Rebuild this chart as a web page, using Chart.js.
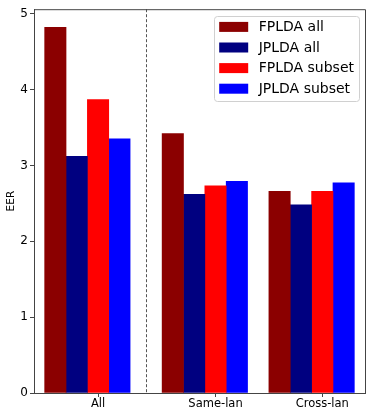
<!DOCTYPE html>
<html>
<head>
<meta charset="utf-8">
<script src="https://cdn.jsdelivr.net/npm/chart.js@4"></script>
<style>
  html, body { margin: 0; padding: 0; background: #fff; }
  #wrap { width: 374px; height: 415px; }
</style>
</head>
<body>
<div id="wrap"><canvas id="myChart" width="374" height="415"></canvas></div>
<script>
// data
const categories = ["All", "Same-lan", "Cross-lan"];
const seriesNames = ["FPLDA all", "JPLDA all", "FPLDA subset", "JPLDA subset"];
const fpldaAll = [4.82, 3.42, 2.66];
const jpldaAll = [3.12, 2.62, 2.48];
const fpldaSubset = [3.87, 2.73, 2.66];
const jpldaSubset = [3.35, 2.79, 2.77];
const yTicks = [0, 1, 2, 3, 4, 5];

// layout of the groups on the x axis (bar width 0.2, tick sits on the 3rd bar)
const groupPos = [0, 1.1, 2.1];
const barOffsets = [-0.4, -0.2, 0, 0.2];
const separatorAt = 0.45;
const colors = ["#8b0000", "#000080", "#ff0000", "#0000ff"];
const font = "DejaVu Sans";

const seriesValues = [fpldaAll, jpldaAll, fpldaSubset, jpldaSubset];

const datasets = seriesValues.map((vals, d) => ({
  label: seriesNames[d],
  data: vals.map((v, i) => ({ x: groupPos[i] + barOffsets[d], y: v })),
  backgroundColor: colors[d],
  borderWidth: 0,
  grouped: false,
  categoryPercentage: 1,
  barPercentage: 1
}));

// frame, dashed separator and boxed legend inside the plot
const extras = {
  id: "extras",
  afterDatasetsDraw(chart) {
    const { ctx, chartArea: a, scales } = chart;
    ctx.save();
    // dashed separator
    const sx = Math.round(scales.x.getPixelForValue(separatorAt)) + 0.5;
    ctx.strokeStyle = "#555";
    ctx.lineWidth = 1;
    ctx.setLineDash([3, 2]);
    ctx.beginPath();
    ctx.moveTo(sx, a.top);
    ctx.lineTo(sx, a.bottom);
    ctx.stroke();
    ctx.setLineDash([]);
    // top / right spines
    ctx.strokeStyle = "#444";
    ctx.beginPath();
    ctx.moveTo(a.left, a.top + 0.5);
    ctx.lineTo(a.right + 0.5, a.top + 0.5);
    ctx.lineTo(a.right + 0.5, a.bottom);
    ctx.stroke();
    ctx.restore();
  },
  afterDraw(chart) {
    const { ctx, chartArea: a } = chart;
    const ds = chart.data.datasets;
    ctx.save();
    ctx.font = "14px '" + font + "'";
    let maxW = 0;
    ds.forEach(d => { maxW = Math.max(maxW, ctx.measureText(d.label).width); });
    const patchW = 29, patchH = 10, rowH = 20.6;
    const w = 5 + patchW + 10.5 + maxW + 5;
    const h = 85;
    const right = a.right - 6;
    const left = right - w;
    const top = a.top + 7;
    ctx.fillStyle = "rgba(255,255,255,0.85)";
    ctx.strokeStyle = "#d0d0d0";
    ctx.lineWidth = 1;
    ctx.beginPath();
    ctx.roundRect(Math.round(left) + 0.5, Math.round(top) + 0.5, Math.round(w), h, 3);
    ctx.fill();
    ctx.stroke();
    ds.forEach((d, i) => {
      const cy = top + 10.7 + i * rowH;
      ctx.fillStyle = d.backgroundColor;
      ctx.fillRect(left + 5, cy - patchH / 2, patchW, patchH);
      ctx.fillStyle = "#000";
      ctx.textBaseline = "middle";
      ctx.textAlign = "left";
      ctx.fillText(d.label, left + 5 + patchW + 10.5, cy + 0.5);
    });
    ctx.restore();
  }
};

new Chart(document.getElementById("myChart"), {
  type: "bar",
  data: { datasets: datasets },
  options: {
    responsive: false,
    animation: false,
    layout: { padding: { top: 8, right: 9, left: 0, bottom: 0 } },
    plugins: {
      legend: { display: false },
      tooltip: { enabled: false }
    },
    scales: {
      x: {
        type: "linear",
        min: -0.6,
        max: 2.5,
        offset: false,
        afterBuildTicks: scale => {
          scale.ticks = groupPos.map(v => ({ value: v }));
        },
        afterFit: scale => { scale.height = 22; },
        ticks: {
          autoSkip: false,
          maxRotation: 0,
          padding: 0,
          color: "#000",
          font: { family: font, size: 11.5 },
          callback: (value, index) => categories[index]
        },
        grid: { offset: false, drawOnChartArea: false, drawTicks: true, tickLength: 4, color: "#444" },
        border: { display: true, color: "#444", width: 1 }
      },
      y: {
        min: 0,
        max: 5.06,
        afterBuildTicks: scale => {
          scale.ticks = yTicks.map(v => ({ value: v }));
        },
        afterFit: scale => { scale.width = 34; },
        ticks: {
          padding: 2,
          color: "#000",
          font: { family: font, size: 12 }
        },
        title: {
          display: true,
          text: "EER",
          color: "#000",
          padding: { top: 4.5, bottom: 0 },
          font: { family: font, size: 10.5 }
        },
        grid: { drawOnChartArea: false, drawTicks: true, tickLength: 4, color: "#444" },
        border: { display: true, color: "#444", width: 1 }
      }
    }
  },
  plugins: [extras]
});
</script>
</body>
</html>
